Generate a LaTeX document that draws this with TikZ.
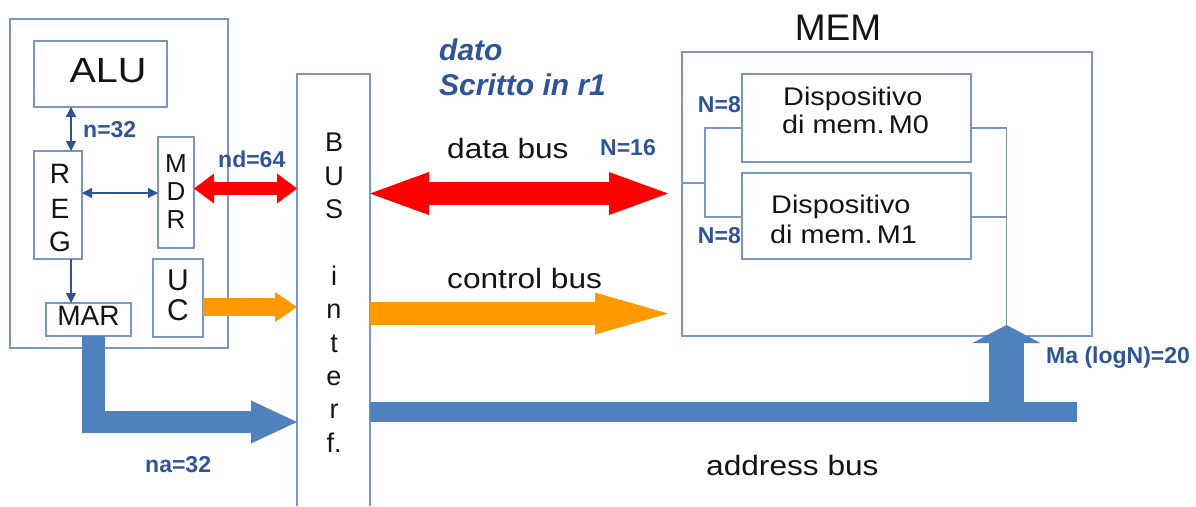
\documentclass[tikz,border=0pt]{standalone}
\usepackage{fontspec}
\setmainfont{Liberation Sans}
\newfontfamily\widesf[FakeStretch=1.13]{Liberation Sans}
\usetikzlibrary{arrows.meta,calc}
\definecolor{boxc}{RGB}{122,150,196}
\definecolor{thinc}{RGB}{45,85,145}
\definecolor{labc}{RGB}{47,85,151}
\definecolor{addrc}{RGB}{79,129,189}
\definecolor{datac}{RGB}{255,0,0}
\definecolor{ctrlc}{RGB}{255,153,0}
\definecolor{inkc}{RGB}{20,20,20}
\tikzset{
  box/.style={draw=boxc, line width=1.6pt, inner sep=0pt, outer sep=0pt},
  conn/.style={draw=boxc, line width=1.6pt},
  tarr/.style={draw=thinc, line width=1.4pt},
  >={Triangle[length=10pt,width=10pt]},
  lbl/.style={font=\fontsize{23}{23}\selectfont\bfseries, text=labc, inner sep=0pt},
  letter/.style={font=\fontsize{27}{27}\selectfont, text=inkc, inner sep=0pt, anchor=base},
  buslbl/.style={font=\widesf\fontsize{28}{28}\selectfont, text=inkc, inner sep=0pt, anchor=base west},
  devlbl/.style={font=\widesf\fontsize{25.5}{25.5}\selectfont, text=inkc, inner sep=0pt, anchor=base west},
  note/.style={font=\fontsize{30}{30}\selectfont\bfseries\itshape, text=labc, inner sep=0pt, anchor=base west},
  wire/.style={line cap=butt, line join=miter}
}
\begin{document}
\begin{tikzpicture}[x=1pt,y=-1pt]
\useasboundingbox[fill=white] (0,0) rectangle (1196,506);

% ---- CPU ----
\node[box, minimum width=218pt, minimum height=329pt] (cpu) at (119,183.5) {};
\node[box, minimum width=133pt, minimum height=66pt] (alu) at (100.5,74) {};
\node[box, minimum width=48pt, minimum height=108pt] (reg) at (58,205) {};
\node[box, minimum width=36pt, minimum height=111pt] (mdr) at (176,192.5) {};
\node[box, minimum width=50pt, minimum height=78pt] (uc) at (178,298) {};
\node[box, minimum width=85pt, minimum height=33pt] (mar) at (88.5,319.5) {};

\node[font=\widesf\fontsize{35}{35}\selectfont, text=inkc, inner sep=0pt, anchor=base] (alut) at (108,82) {ALU};
\node[letter, font=\fontsize{28}{28}\selectfont] (r1) at (60,183) {R};
\node[letter, font=\fontsize{28}{28}\selectfont] (r2) at (60,218) {E};
\node[letter, font=\fontsize{28}{28}\selectfont] (r3) at (60,251) {G};
\node[letter, font=\fontsize{26}{26}\selectfont] (d1) at (176,172) {M};
\node[letter, font=\fontsize{26}{26}\selectfont] (d2) at (176,200) {D};
\node[letter, font=\fontsize{26}{26}\selectfont] (d3) at (176,228) {R};
\node[letter, font=\fontsize{30}{30}\selectfont] (u1) at (178,290) {U};
\node[letter, font=\fontsize{30}{30}\selectfont] (u2) at (178,320) {C};
\node[letter, font=\fontsize{28}{28}\selectfont] (mart) at (88.5,325) {MAR};

\draw[tarr,<->] (alu.south -| 71,0) -- (reg.north -| 71,0);
\draw[tarr,<->] (reg.east |- 0,193) -- (mdr.west |- 0,193);
\draw[tarr,->] (reg.south -| 71,0) -- (mar.north -| 71,0);

\node[lbl, anchor=base west] (n32) at (83,137) {n=32};
\node[lbl, anchor=base west] (nd64) at (218,167) {nd=64};
\node[lbl, anchor=base west] (na32) at (145,472) {na=32};

% ---- bus interface ----
\node[inner sep=0pt, outer sep=0pt, minimum width=73pt, minimum height=432pt] (bus) at (333.5,290) {};
\draw[conn] (bus.south west) |- (bus.north east) -- (bus.south east);
\foreach \ch/\yy [count=\k] in {B/151,U/185,S/218,i/285,n/318,t/352,e/385,r/418,f./452}
  \node[letter] (bl\k) at (334,\yy) {\ch};

% ---- memory ----
\node[font=\fontsize{37}{37}\selectfont, text=inkc, inner sep=0pt, anchor=base] (memt) at (838,40) {MEM};
\node[box, minimum width=410pt, minimum height=284pt] (mem) at (887,194) {};
\node[box, minimum width=229pt, minimum height=88pt] (m0) at (856.5,118) {};
\node[box, minimum width=229pt, minimum height=86pt] (m1) at (856.5,216) {};
\node[devlbl] (m0a) at (783,105) {Dispositivo};
\node[devlbl] (m0b) at (782,133) {di mem.\,M0};
\node[devlbl] (m1a) at (771,213) {Dispositivo};
\node[devlbl] (m1b) at (770,243) {di mem.\,M1};
\node[lbl, anchor=base east] (n8a) at (741,112) {N=8};
\node[lbl, anchor=base east] (n8b) at (741,243) {N=8};

\coordinate (jl) at (705,183);
\coordinate (matip) at (1006.5,325);
\draw[conn] (mem.west |- jl) -- (jl);
\draw[conn] (m0.west |- 0,128) -| (jl) |- (m1.west |- 0,217);
\draw[conn] (m0.east |- 0,128) -| (matip);
\draw[conn] (m1.east |- 0,217) -- (matip |- 0,217);

% ---- buses ----
\coordinate (dataend) at (668,193.5);
\coordinate (ctrlend) at (668,313.5);
\coordinate (addrend) at (1077,412);

\draw[wire, datac, line width=13pt,
  {Triangle[length=20pt,width=30pt,line width=0pt]}-{Triangle[length=20pt,width=30pt,line width=0pt]}]
  (mdr.east |- 0,188.5) -- (bus.west |- 0,188.5);
\draw[wire, ctrlc, line width=18pt, -{Triangle[length=22pt,width=30pt,line width=0pt]}]
  (uc.east |- 0,307) -- (bus.west |- 0,307);
\draw[wire, addrc, line width=22.5pt, -{Triangle[length=46pt,width=43pt,line width=0pt]}]
  ([xshift=5pt]mar.south) |- (bus.west |- 0,422);

\draw[wire, datac, line width=23pt,
  {Triangle[length=59pt,width=43pt,line width=0pt]}-{Triangle[length=59pt,width=43pt,line width=0pt]}]
  (bus.east |- dataend) -- (dataend);
\draw[wire, ctrlc, line width=23pt, -{Triangle[length=73pt,width=42pt,line width=0pt]}]
  (bus.east |- ctrlend) -- (ctrlend);
\draw[wire, addrc, line width=20pt] (bus.east |- addrend) -- (addrend);
\draw[wire, addrc, line width=35pt, -{Triangle[length=18pt,width=68pt,line width=0pt]}]
  (matip |- addrend) -- (matip);

\node[buslbl] (dbus) at (447,158) {data bus};
\node[buslbl] (cbus) at (447,288) {control bus};
\node[buslbl] (abus) at (706,475) {address bus};
\node[lbl, anchor=base west] (n16) at (600,155) {N=16};
\node[lbl, anchor=base west] (malbl) at (1046,363) {Ma (logN)=20};
\node[note] (dato) at (439,60) {dato};
\node[note] (scr) at (439,95) {Scritto in r1};
\end{tikzpicture}
\end{document}
